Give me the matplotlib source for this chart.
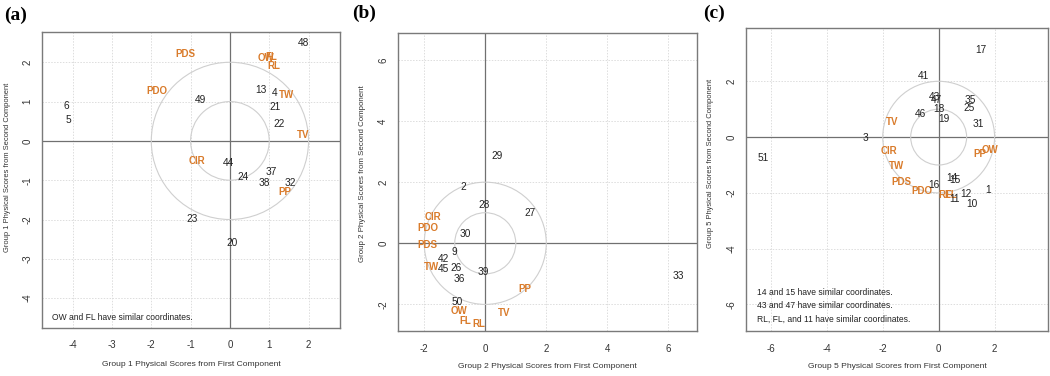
import matplotlib
matplotlib.use("Agg")
import matplotlib.pyplot as plt
from matplotlib.patches import Circle

plt.rcParams['font.family'] = ['Liberation Sans', 'DejaVu Sans']

# ---------------- data ----------------
# Panel (a) : Group 1
a_var_labels = ["PDS", "OW", "FL", "RL", "PDO", "TW", "TV", "CIR", "PP"]
a_var_x = [-1.13, 0.93, 1.06, 1.12, -1.86, 1.44, 1.87, -0.85, 1.40]
a_var_y = [2.21, 2.11, 2.14, 1.91, 1.26, 1.18, 0.15, -0.50, -1.30]
a_obs_labels = ["48", "49", "13", "4", "21", "6", "5", "22", "44", "37", "24", "38", "32", "23", "20"]
a_obs_x = [1.87, -0.76, 0.80, 1.13, 1.15, -4.16, -4.10, 1.25, -0.03, 1.04, 0.33, 0.87, 1.54, -0.97, 0.06]
a_obs_y = [2.50, 1.03, 1.29, 1.22, 0.85, 0.90, 0.53, 0.42, -0.55, -0.78, -0.93, -1.08, -1.08, -1.99, -2.60]
a_ticks = [-4, -3, -2, -1, 0, 1, 2]
a_notes = ["OW and FL have similar coordinates."]

# Panel (b) : Group 2
b_var_labels = ["CIR", "PDO", "PDS", "TW", "PP", "OW", "TV", "FL", "RL"]
b_var_x = [-1.71, -1.88, -1.91, -1.77, 1.29, -0.86, 0.61, -0.64, -0.22]
b_var_y = [0.87, 0.51, -0.05, -0.78, -1.49, -2.21, -2.27, -2.53, -2.64]
b_obs_labels = ["29", "2", "28", "27", "30", "9", "42", "45", "26", "36", "39", "33", "50"]
b_obs_x = [0.38, -0.73, -0.05, 1.47, -0.65, -1.01, -1.36, -1.38, -0.97, -0.86, -0.05, 6.34, -0.93]
b_obs_y = [2.85, 1.85, 1.25, 1.00, 0.29, -0.27, -0.52, -0.85, -0.82, -1.16, -0.94, -1.08, -1.93]
b_ticks = [-2, 0, 2, 4, 6]
b_notes = []

# Panel (c) : Group 5
c_var_labels = ["TV", "CIR", "OW", "PP", "TW", "PDS", "PDO", "RL", "FL"]
c_var_x = [-1.65, -1.78, 1.83, 1.48, -1.50, -1.35, -0.60, 0.23, 0.46]
c_var_y = [0.54, -0.51, -0.48, -0.60, -1.05, -1.62, -1.95, -2.08, -2.08]
c_obs_labels = ["17", "41", "43", "47", "35", "25", "18", "46", "19", "31", "3", "51",
                "14", "15", "16", "11", "12", "1", "10"]
c_obs_x = [1.50, -0.55, -0.16, -0.07, 1.12, 1.10, 0.00, -0.64, 0.17, 1.42, -2.61, -6.29,
           0.49, 0.59, -0.16, 0.58, 0.97, 1.77, 1.20]
c_obs_y = [3.13, 2.19, 1.43, 1.34, 1.32, 1.04, 0.99, 0.84, 0.66, 0.48, -0.02, -0.76,
           -1.46, -1.55, -1.70, -2.21, -2.05, -1.91, -2.39]
c_ticks = [-6, -4, -2, 0, 2]
c_notes = ["14 and 15 have similar coordinates.",
           "43 and 47 have similar coordinates.",
           "RL, FL, and 11 have similar coordinates."]

# ---------------- style ----------------
W, H = 1050, 376
ORANGE = "#D97B2B"
DARK = "#222222"
FRAME = "#7a7a7a"

fig = plt.figure(figsize=(W / 100, H / 100), dpi=100)
fig.patch.set_facecolor("white")


def px_axes(left, top, right, bottom):
    return fig.add_axes([left / W, 1 - bottom / H, (right - left) / W, (bottom - top) / H])


def panel(box, xlim, ylim, ticks, var_l, var_x, var_y, obs_l, obs_x, obs_y,
          group, notes, note_xy, tag, tag_xy, ylab_x, ylab_y, ylab_fs, xlab_y):
    ax = px_axes(*box)
    ax.set_xlim(*xlim)
    ax.set_ylim(*ylim)
    for s in ax.spines.values():
        s.set_color(FRAME)
        s.set_linewidth(1.0)
    ax.set_xticks(ticks)
    ax.set_yticks(ticks)
    ax.set_xticklabels([str(t) for t in ticks])
    ax.set_yticklabels([str(t) for t in ticks])
    ax.tick_params(length=0, labelsize=7, colors="#333333")
    ax.tick_params(axis="x", pad=9)
    ax.tick_params(axis="y", pad=7, labelrotation=90)
    for lab in ax.get_yticklabels():
        lab.set_va("center")
    ax.grid(True, color="#dddddd", linestyle=(0, (1.5, 1.5)), linewidth=0.7)
    ax.set_axisbelow(True)
    ax.axhline(0, color="#707070", lw=0.9, zorder=1)
    ax.axvline(0, color="#707070", lw=0.9, zorder=1)
    for r in (1, 2):
        ax.add_patch(Circle((0, 0), r, fill=False, ec="#cfcfcf", lw=0.8, zorder=1))
    for l, x, y in zip(var_l, var_x, var_y):
        ax.text(x, y, l, color=ORANGE, fontsize=7, fontweight="bold",
                ha="center", va="center", zorder=3)
    for l, x, y in zip(obs_l, obs_x, obs_y):
        ax.text(x, y, l, color=DARK, fontsize=7.3, ha="center", va="center", zorder=3)
    for i, n in enumerate(notes):
        fig.text(note_xy[0] / W, 1 - (note_xy[1] + i * 13.5) / H, n, fontsize=6.15,
                 color=DARK, ha="left", va="center")
    fig.text(tag_xy[0] / W, 1 - tag_xy[1] / H, tag, fontsize=14, fontweight="bold",
             family="Liberation Serif", ha="left", va="center")
    fig.text(ylab_x / W, 1 - ylab_y / H,
             f"Group {group} Physical Scores from Second Component",
             rotation=90, fontsize=ylab_fs, color="#333333", ha="center", va="center")
    fig.text((box[0] + box[2]) / 2 / W, 1 - xlab_y / H,
             f"Group {group} Physical Scores from First Component",
             fontsize=6.1, color="#333333", ha="center", va="center")
    return ax


panel((42, 32, 340, 328), (-4.78, 2.80), (-4.76, 2.77), a_ticks,
      a_var_labels, a_var_x, a_var_y, a_obs_labels, a_obs_x, a_obs_y,
      1, a_notes, (52, 317.7), "(a)", (4, 15), 8, 167, 5.4, 364)

panel((398, 33, 697, 331), (-2.86, 6.94), (-2.87, 6.88), b_ticks,
      b_var_labels, b_var_x, b_var_y, b_obs_labels, b_obs_x, b_obs_y,
      2, b_notes, (0, 0), "(b)", (352, 13), 362, 174, 5.7, 367)

panel((746, 28, 1048, 331), (-6.89, 3.91), (-6.95, 3.91), c_ticks,
      c_var_labels, c_var_x, c_var_y, c_obs_labels, c_obs_x, c_obs_y,
      5, c_notes, (757, 292.3), "(c)", (703, 13), 710, 163, 5.4, 367)

fig.savefig("out.png", dpi=100, facecolor="white")
